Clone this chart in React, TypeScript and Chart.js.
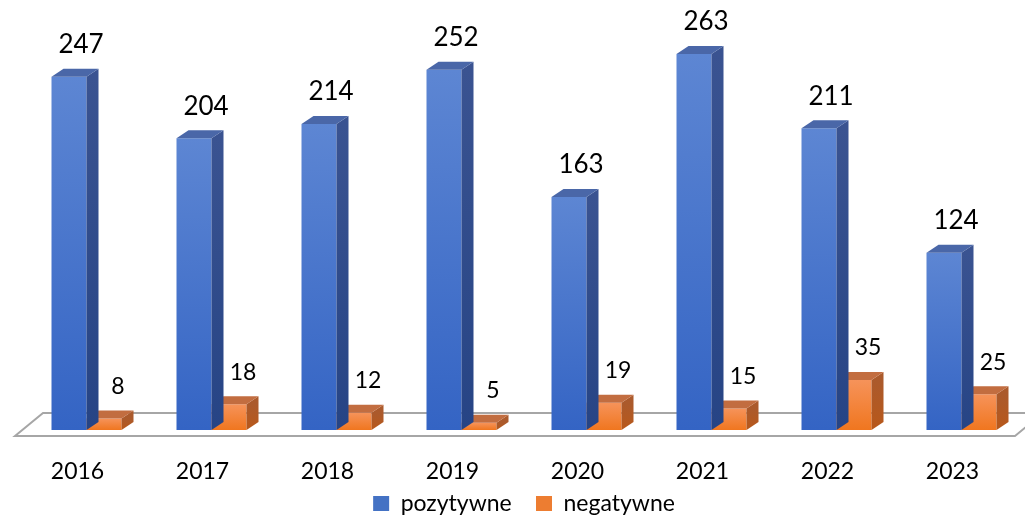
import React, { useEffect, useRef } from 'react';
import { Chart, registerables } from 'chart.js';

Chart.register(...registerables);

const categories = ['2016', '2017', '2018', '2019', '2020', '2021', '2022', '2023'];
const positive = [247, 204, 214, 252, 163, 263, 211, 124];
const negative = [8, 18, 12, 5, 19, 15, 35, 25];
const seriesNames = ['pozytywne', 'negatywne'];

const FONT = 'Lato, "Noto Sans", sans-serif';
const DX = 12;
const DY = 8;

const palette = [
  { frontTop: '#5d86d3', frontBottom: '#3464c4', top: '#4a67a8', sideTop: '#3a5391', sideBottom: '#264485', legend: '#4472c4' },
  { frontTop: '#f6935a', frontBottom: '#f0761f', top: '#c26d40', sideTop: '#ab5a2c', sideBottom: '#b8581a', legend: '#ed7d31' },
];

function frontGradient(ctx: any, idx: number) {
  const chart = ctx.chart;
  const p = palette[idx];
  const ys = chart.scales && chart.scales.y;
  if (!ys || ctx.raw === undefined) return p.frontBottom;
  const top = ys.getPixelForValue(ctx.raw);
  const bottom = ys.getPixelForValue(0);
  if (!isFinite(top) || !isFinite(bottom) || top === bottom) return p.frontBottom;
  const g = chart.ctx.createLinearGradient(0, top, 0, bottom);
  g.addColorStop(0, p.frontTop);
  g.addColorStop(1, p.frontBottom);
  return g;
}

const floorPlugin = {
  id: 'floor3d',
  beforeDatasetsDraw(chart: any) {
    const { ctx, chartArea } = chart;
    const { left, right, bottom } = chartArea;
    ctx.save();
    ctx.beginPath();
    ctx.moveTo(left - 9, bottom + 6);
    ctx.lineTo(right - 9, bottom + 6);
    ctx.lineTo(right + 19, bottom - 17);
    ctx.lineTo(left + 19, bottom - 17);
    ctx.closePath();
    ctx.fillStyle = '#ffffff';
    ctx.fill();
    ctx.strokeStyle = '#a6a6a6';
    ctx.lineWidth = 2;
    ctx.stroke();
    ctx.restore();
  },
};

const facesPlugin = {
  id: 'faces3d',
  afterDatasetDraw(chart: any, args: any) {
    const { ctx } = chart;
    const p = palette[args.index];
    ctx.save();
    args.meta.data.forEach((el: any) => {
      const { x, y, base, width } = el.getProps(['x', 'y', 'base', 'width'], true);
      const l = x - width / 2;
      const r = x + width / 2;
      const sg = ctx.createLinearGradient(0, y, 0, base);
      sg.addColorStop(0, p.sideTop);
      sg.addColorStop(1, p.sideBottom);
      ctx.beginPath();
      ctx.moveTo(r, y);
      ctx.lineTo(r + DX, y - DY);
      ctx.lineTo(r + DX, base - DY);
      ctx.lineTo(r, base);
      ctx.closePath();
      ctx.fillStyle = sg;
      ctx.fill();
      ctx.beginPath();
      ctx.moveTo(l, y);
      ctx.lineTo(r, y);
      ctx.lineTo(r + DX, y - DY);
      ctx.lineTo(l + DX, y - DY);
      ctx.closePath();
      ctx.fillStyle = p.top;
      ctx.fill();
    });
    ctx.restore();
  },
};

const labelsPlugin = {
  id: 'valueLabels',
  afterDatasetsDraw(chart: any) {
    const { ctx } = chart;
    ctx.save();
    ctx.fillStyle = '#000000';
    ctx.textAlign = 'center';
    ctx.textBaseline = 'middle';
    chart.data.datasets.forEach((ds: any, i: number) => {
      const meta = chart.getDatasetMeta(i);
      ctx.font = (i === 0 ? '26px ' : '23px ') + FONT;
      meta.data.forEach((el: any, j: number) => {
        const { x, y } = el.getProps(['x', 'y'], true);
        const dx = i === 0 ? 12 : 14;
        const dy = 32;
        ctx.fillText(String(ds.data[j]), x + dx, y - dy);
      });
    });
    ctx.restore();
  },
};

export default function App() {
  const canvasRef = useRef<HTMLCanvasElement | null>(null);

  useEffect(() => {
    if (!canvasRef.current) return;
    const chart = new Chart(canvasRef.current, {
      type: 'bar',
      data: {
        labels: categories,
        datasets: [
          {
            label: seriesNames[0],
            data: positive,
            backgroundColor: (c: any) => frontGradient(c, 0),
            borderWidth: 0,
            barPercentage: 1,
            categoryPercentage: 0.56,
          },
          {
            label: seriesNames[1],
            data: negative,
            backgroundColor: (c: any) => frontGradient(c, 1),
            borderWidth: 0,
            barPercentage: 1,
            categoryPercentage: 0.56,
          },
        ],
      },
      options: {
        animation: false,
        responsive: true,
        maintainAspectRatio: false,
        layout: { padding: { left: 24, right: 1, top: 1, bottom: -8 } },
        scales: {
          x: {
            grid: { display: false, drawTicks: false },
            border: { display: false },
            ticks: {
              color: '#000000',
              font: { family: FONT, size: 23 },
              padding: 28,
              labelOffset: -9,
            },
            afterFit: (scale: any) => {
              scale.height = 55;
            },
          },
          y: {
            display: false,
            min: 0,
            max: 300,
          },
        },
        plugins: {
          tooltip: { enabled: false },
          legend: {
            position: 'bottom',
            labels: {
              color: '#000000',
              font: { family: FONT, size: 23 },
              boxWidth: 16,
              boxHeight: 15,
              padding: 7,
              generateLabels: (ch: any) =>
                ch.data.datasets.map((ds: any, i: number) => ({
                  text: i === 0 ? ds.label + '\u2003' : ds.label,
                  fillStyle: palette[i].legend,
                  strokeStyle: palette[i].legend,
                  lineWidth: 0,
                  hidden: false,
                  datasetIndex: i,
                  fontColor: '#000000',
                })),
            },
          },
        },
      },
      plugins: [floorPlugin, facesPlugin, labelsPlugin],
    });
    return () => chart.destroy();
  }, []);

  return (
    <div style={{ position: 'absolute', left: 0, top: 0, width: 1025, height: 517, background: '#ffffff' }}>
      <canvas ref={canvasRef} />
    </div>
  );
}
